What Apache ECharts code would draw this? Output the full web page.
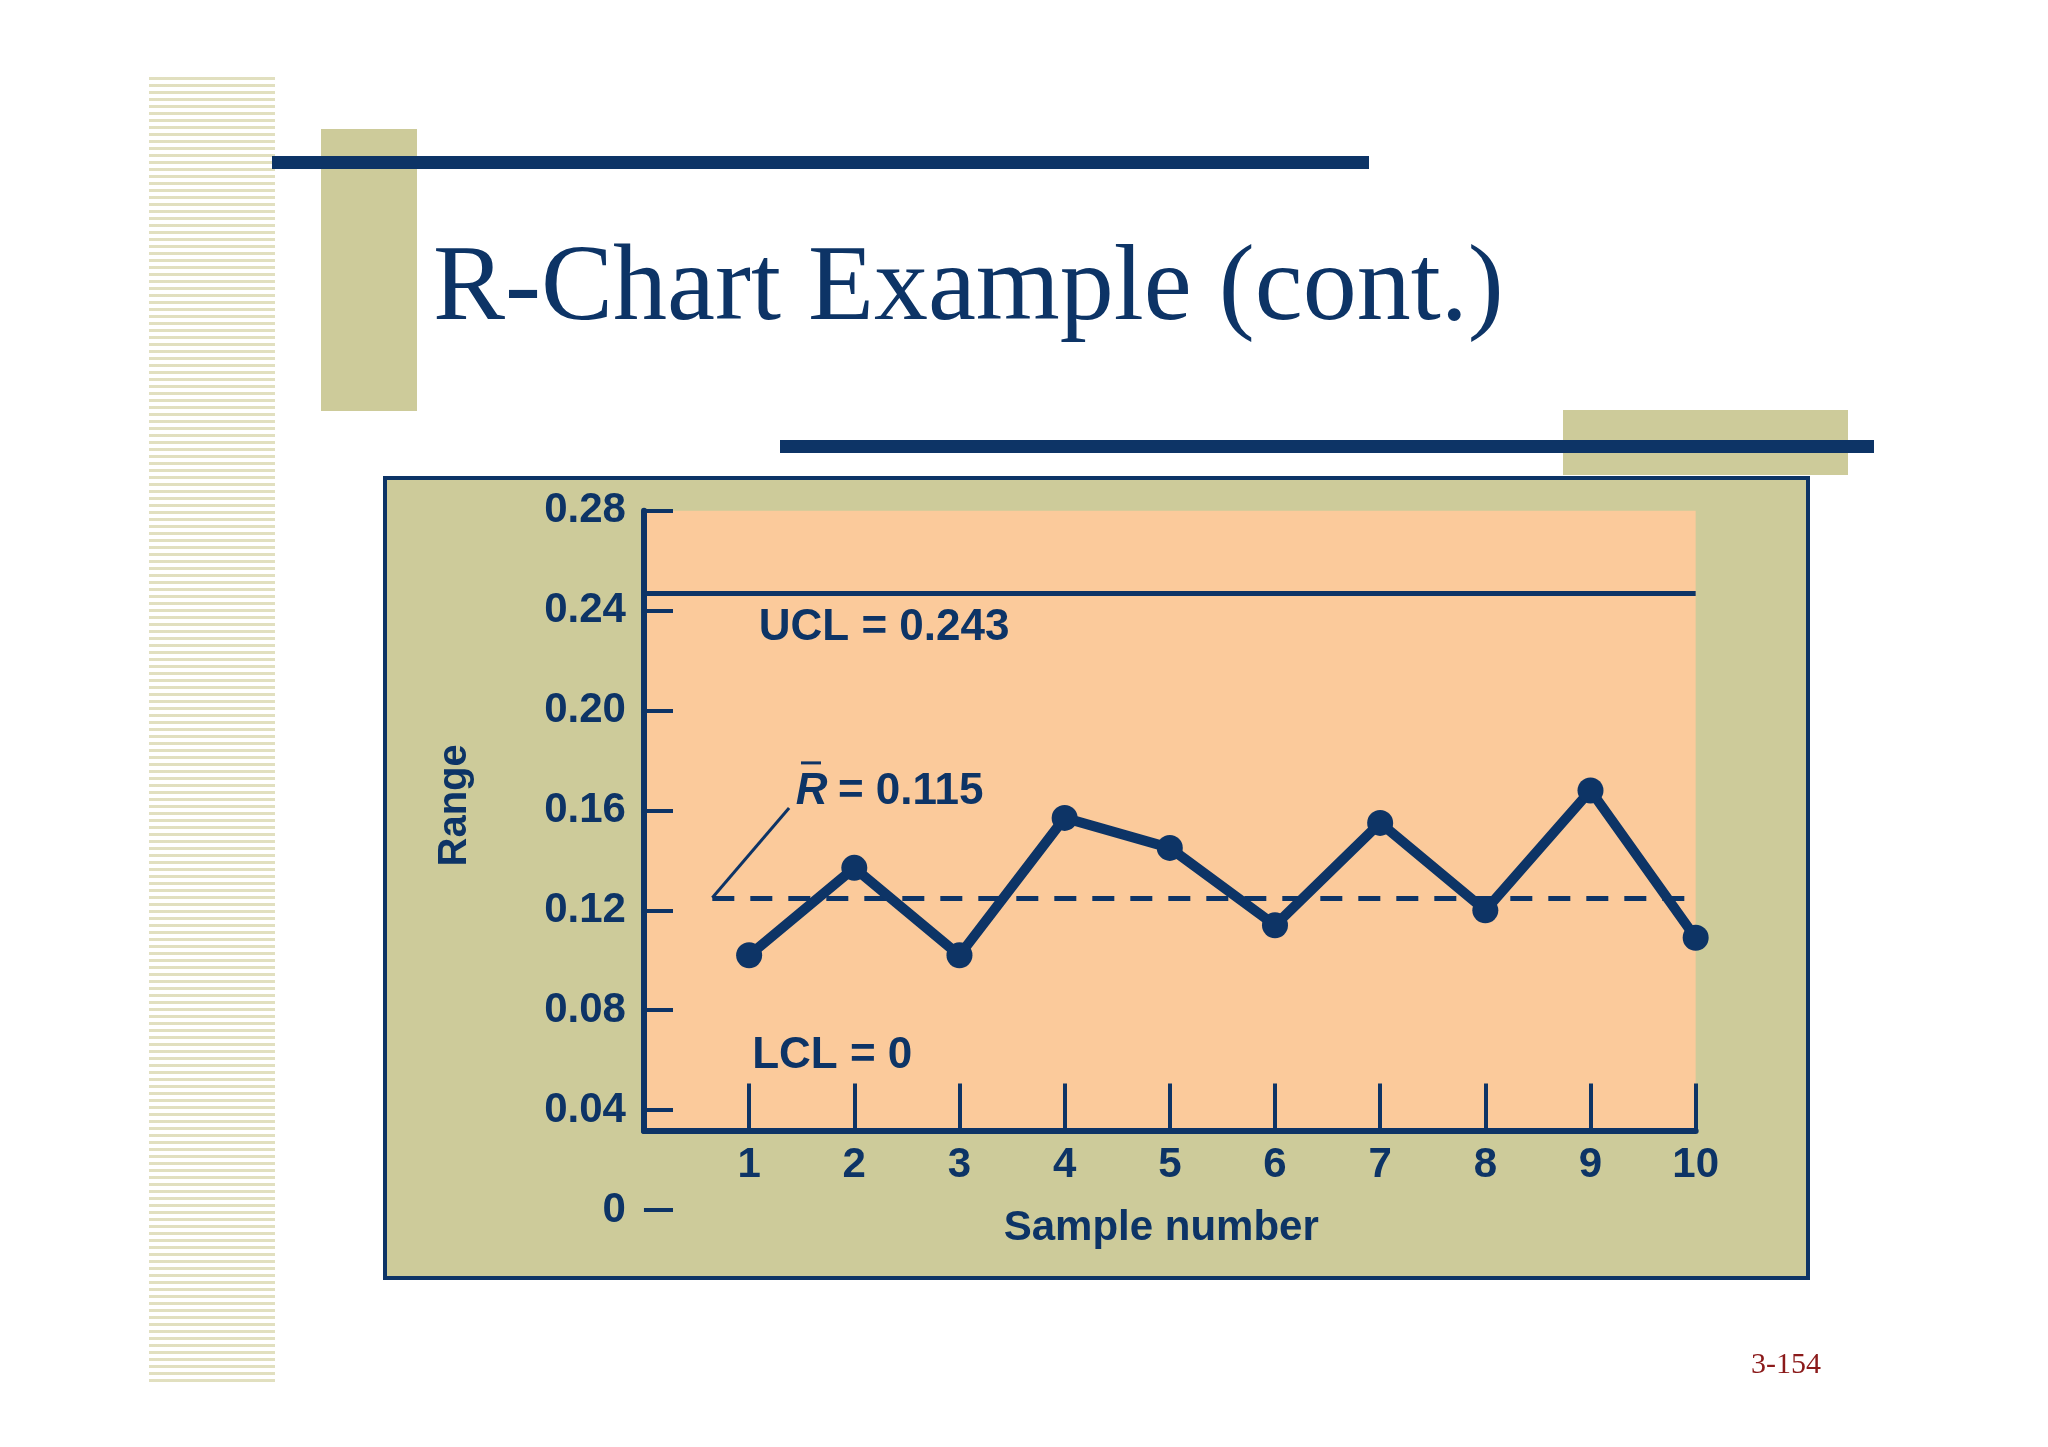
<!DOCTYPE html>
<html><head><meta charset="utf-8">
<script src="https://cdn.jsdelivr.net/npm/echarts@6/dist/echarts.min.js"></script>
<style>
html,body{margin:0;padding:0;background:#fff;}
#c{width:2048px;height:1447px;position:relative;}
#stripes{position:absolute;left:149px;top:77px;width:126px;height:1306px;
background:repeating-linear-gradient(to bottom,#dedcb8 0px,#dedcb8 3px,#fff 3px,#fff 7px);opacity:0.9;}
</style></head><body>
<div id="stripes"></div>
<div id="c"></div>
<script>
const samples=[1,2,3,4,5,6,7,8,9,10];
const ranges=[0.102,0.137,0.102,0.157,0.145,0.114,0.155,0.120,0.168,0.109];
const yTicks=[0,0.04,0.08,0.12,0.16,0.20,0.24,0.28];
const ucl=0.247, rbar=0.125;
const S=2048/1552, NAVY='#0d3466';
const chart=echarts.init(document.getElementById('c'),null,{width:2048,height:1447});
const font={fontFamily:'Liberation Sans, Arial',fontWeight:'bold',color:NAVY};
const opt={
 backgroundColor:'transparent',
 grid:[
  {left:488*S,right:2048-1285*S,top:387*S,bottom:1447-857*S,show:true,backgroundColor:'#fbca9b',borderWidth:0},
  {left:488*S,right:2048-1285*S,top:387*S,bottom:1447-917*S,show:false}
 ],
 xAxis:[
  {gridIndex:0,type:'value',min:0,max:10,interval:1,splitLine:{show:false},z:5,
   axisLine:{lineStyle:{color:NAVY,width:6}},
   axisTick:{inside:true,length:36*S,lineStyle:{color:NAVY,width:4}},
   axisLabel:{...font,fontSize:42,margin:14,formatter:v=>v===0?'':String(v)}},
  {gridIndex:1,type:'value',min:0,max:10,show:false}
 ],
 yAxis:[
  {gridIndex:0,type:'value',min:0.0317,max:0.28,splitLine:{show:false},z:5,
   axisLine:{show:true,lineStyle:{color:NAVY,width:6}},axisTick:{show:false},axisLabel:{show:false}},
  {gridIndex:1,type:'value',min:0,max:0.28,interval:0.04,splitLine:{show:false},z:5,
   axisLine:{show:false},axisTick:{show:true,inside:true,length:22*S,lineStyle:{color:NAVY,width:4}},
   axisLabel:{...font,fontSize:42,margin:18,formatter:v=>v===0?'0':v.toFixed(2)},
   name:'Range',nameLocation:'middle',nameGap:128*S,nameRotate:90,
   nameTextStyle:{...font,fontSize:40,padding:[0,0,0,110]}}
 ],
 series:[{
  type:'line',xAxisIndex:0,yAxisIndex:0,z:6,
  data:samples.map((s,i)=>[s,ranges[i]]),
  symbol:'circle',symbolSize:26,lineStyle:{color:NAVY,width:10},itemStyle:{color:NAVY},
  markLine:{silent:true,symbol:'none',label:{show:false},
   data:[
    [{coord:[0,ucl],lineStyle:{type:'solid',width:5,color:NAVY}},{coord:[10,ucl]}],
    [{coord:[0.65,rbar],lineStyle:{type:[22,16],width:5,color:NAVY}},{coord:[10,rbar]}],
    [{coord:[0.65,rbar],lineStyle:{type:'solid',width:3,color:NAVY}},{coord:[1.38,0.161]}]
   ]}
 }]
};
chart.setOption(opt);
const tf={fontFamily:'Liberation Sans, Arial',fontWeight:'bold',fontSize:44,fill:NAVY};
chart.setOption({graphic:[
 {type:'rect',z:-10,shape:{x:321,y:129,width:96,height:282},style:{fill:'#cdcb9a'}},
 {type:'rect',z:-9,shape:{x:272,y:156,width:1097,height:13},style:{fill:'#0d3466'}},
 {type:'rect',z:-10,shape:{x:1563,y:410,width:285,height:65},style:{fill:'#cdcb9a'}},
 {type:'rect',z:-9,shape:{x:780,y:440,width:1094,height:13},style:{fill:'#0d3466'}},
 {type:'rect',z:-8,shape:{x:385,y:478,width:1423,height:800},style:{fill:'#cdcb9a',stroke:NAVY,lineWidth:4}},
 {type:'text',z:10,x:433,y:345,style:{text:'R-Chart Example (cont.)',fontFamily:'Liberation Serif, Times New Roman',fontSize:108,fill:NAVY,textVerticalAlign:'bottom'}},
 {type:'text',z:10,x:1751,y:1380,style:{text:'3-154',fontFamily:'Liberation Serif',fontSize:30,fill:'#8b1a1a',textVerticalAlign:'bottom'}},
 {type:'text',z:10,x:575*S,y:476*S,style:{...tf,text:'UCL = 0.243',textVerticalAlign:'middle'}},
 {type:'text',z:10,x:570*S,y:800*S,style:{...tf,text:'LCL = 0',textVerticalAlign:'middle'}},
 {type:'text',z:10,x:603*S,y:600*S,style:{...tf,text:'R',fontStyle:'italic',textVerticalAlign:'middle'}},
 {type:'rect',z:10,shape:{x:607*S,y:577*S,width:20,height:3},style:{fill:NAVY}},
 {type:'text',z:10,x:635*S,y:600*S,style:{...tf,text:'= 0.115',textVerticalAlign:'middle'}},
 {type:'text',z:10,x:880*S,y:931*S,style:{...tf,fontSize:42,text:'Sample number',textAlign:'center',textVerticalAlign:'middle'}}
]});
</script></body></html>
